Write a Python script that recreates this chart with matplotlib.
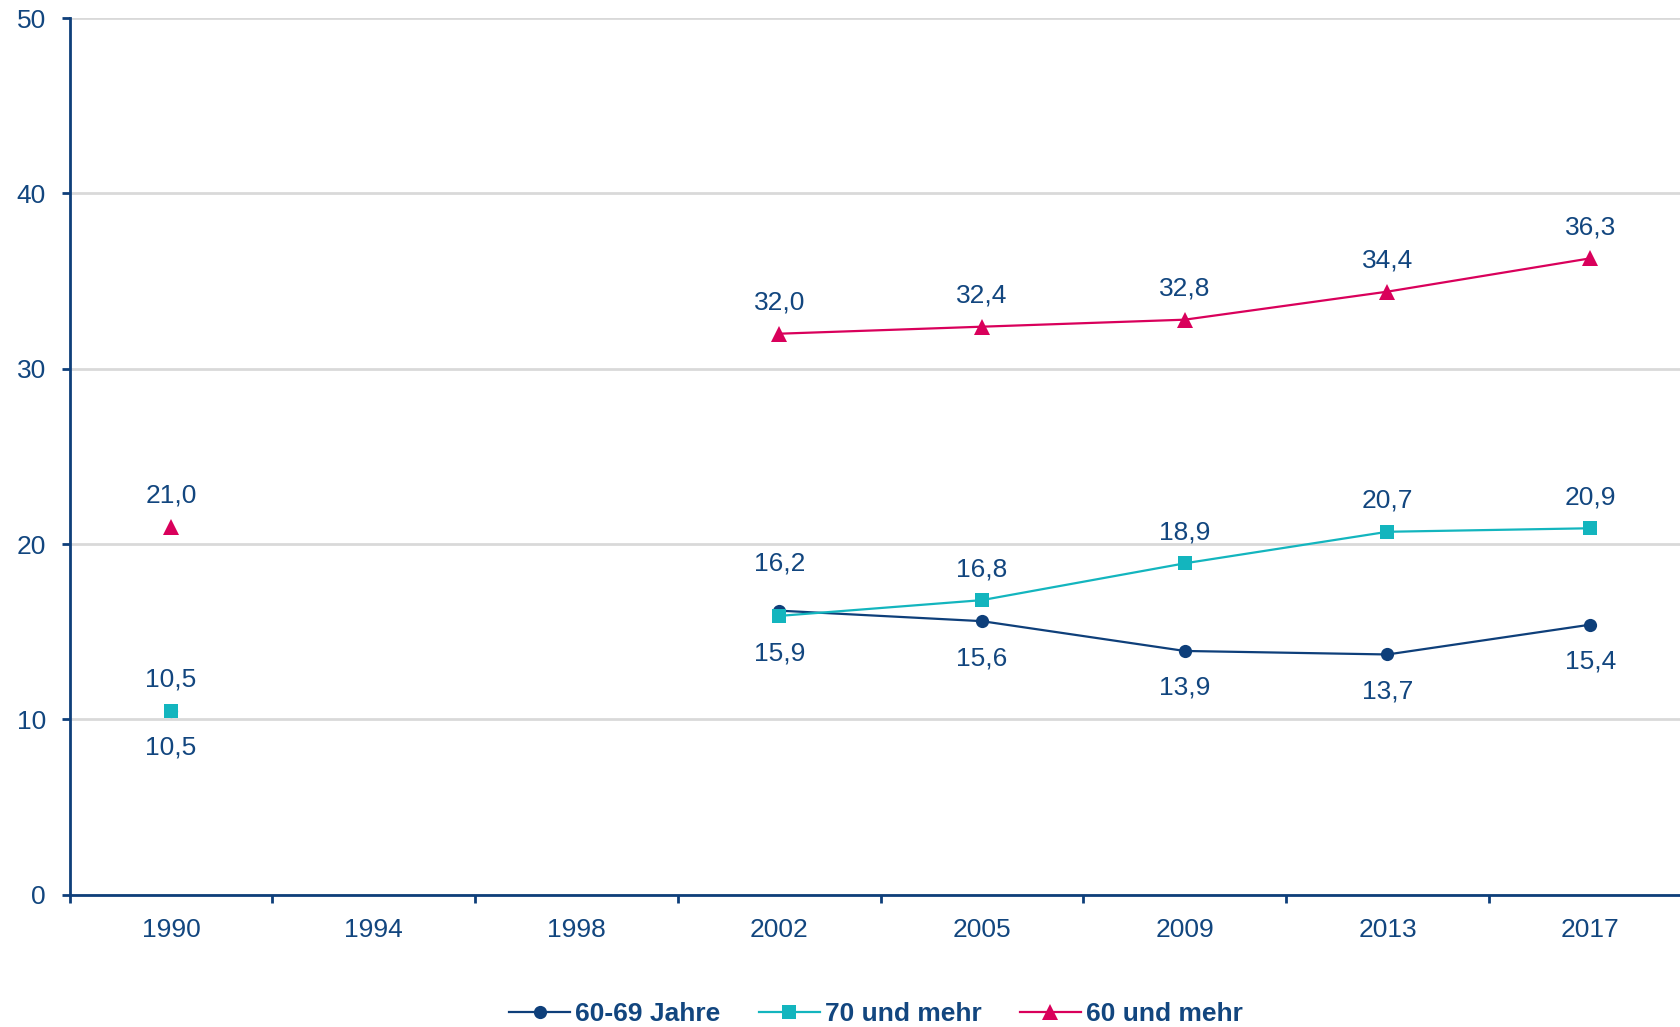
import matplotlib
matplotlib.use("Agg")
import matplotlib.pyplot as plt
import numpy as np
from matplotlib.ticker import FixedLocator

plt.rcParams['font.family'] = ['Liberation Sans', 'DejaVu Sans']

categories = ["1990", "1994", "1998", "2002", "2005", "2009", "2013", "2017"]
s_6069 = [10.5, np.nan, np.nan, 16.2, 15.6, 13.9, 13.7, 15.4]
s_70 = [10.5, np.nan, np.nan, 15.9, 16.8, 18.9, 20.7, 20.9]
s_60 = [21.0, np.nan, np.nan, 32.0, 32.4, 32.8, 34.4, 36.3]
series_names = ["60-69 Jahre", "70 und mehr", "60 und mehr"]

# label placement (pixel offsets; 0 = no label)
off_6069 = [-37, 0, 0, 47, -37, -37, -37, -37]
off_70 = [31, 0, 0, -38, 31, 31, 31, 31]
off_60 = [31, 0, 0, 31, 31, 31, 31, 31]

navy = "#0E3F7A"
teal = "#13B5BE"
crimson = "#D9005B"
txt = "#12467F"
FS = 19

fig = plt.figure(figsize=(16.8, 10.27), dpi=100)
ax = fig.add_axes([69.6/1680, 1-894.6/1027, 1622/1680, (894.6-18.2)/1027])

x = np.arange(len(categories))
styles = [
    (s_6069, navy, 'o', 9.5, off_6069),
    (s_70, teal, 's', 10, off_70),
    (s_60, crimson, '^', 11, off_60),
]
for i, (vals, col, mk, ms, offs) in enumerate(styles):
    ax.plot(x, vals, color=col, marker=mk, markersize=ms, linewidth=1.6,
            label=series_names[i], zorder=3 + i, markeredgewidth=0)
    for xi, v, off in zip(x, vals, offs):
        if np.isnan(v) or off == 0:
            continue
        ax.annotate(f"{v:.1f}".replace(".", ","), (xi, v),
                    xytext=(0, off), textcoords='offset pixels',
                    ha='center', va='center', fontsize=FS, color=txt)

ax.set_xlim(-0.5, len(categories) - 0.5)
ax.set_ylim(0, 50)
ax.set_xticks(x)
ax.set_xticklabels(categories)
ax.xaxis.set_minor_locator(FixedLocator(np.arange(-0.5, len(categories), 1)))
ax.tick_params(axis='x', which='major', length=0, pad=17, labelsize=FS, labelcolor=txt)
ax.tick_params(axis='x', which='minor', length=6, width=2, color=navy, direction='out')
ax.set_yticks([0, 10, 20, 30, 40, 50])
ax.tick_params(axis='y', length=6, width=2, color=navy, pad=11, labelsize=FS, labelcolor=txt)

ax.grid(axis='y', color='#D9D9D9', linewidth=2)
ax.set_axisbelow(True)
for s in ['top', 'right']:
    ax.spines[s].set_visible(False)
for s in ['left', 'bottom']:
    ax.spines[s].set_color(navy)
    ax.spines[s].set_linewidth(2)

leg = fig.legend(loc='center', bbox_to_anchor=(876/1680, 1-1014/1027), ncol=3,
                 frameon=False, fontsize=FS, handlelength=2.3, columnspacing=1.45,
                 handletextpad=0.2)
for t in leg.get_texts():
    t.set_color(txt)
    t.set_fontweight('bold')

fig.savefig("out.png", dpi=100)
